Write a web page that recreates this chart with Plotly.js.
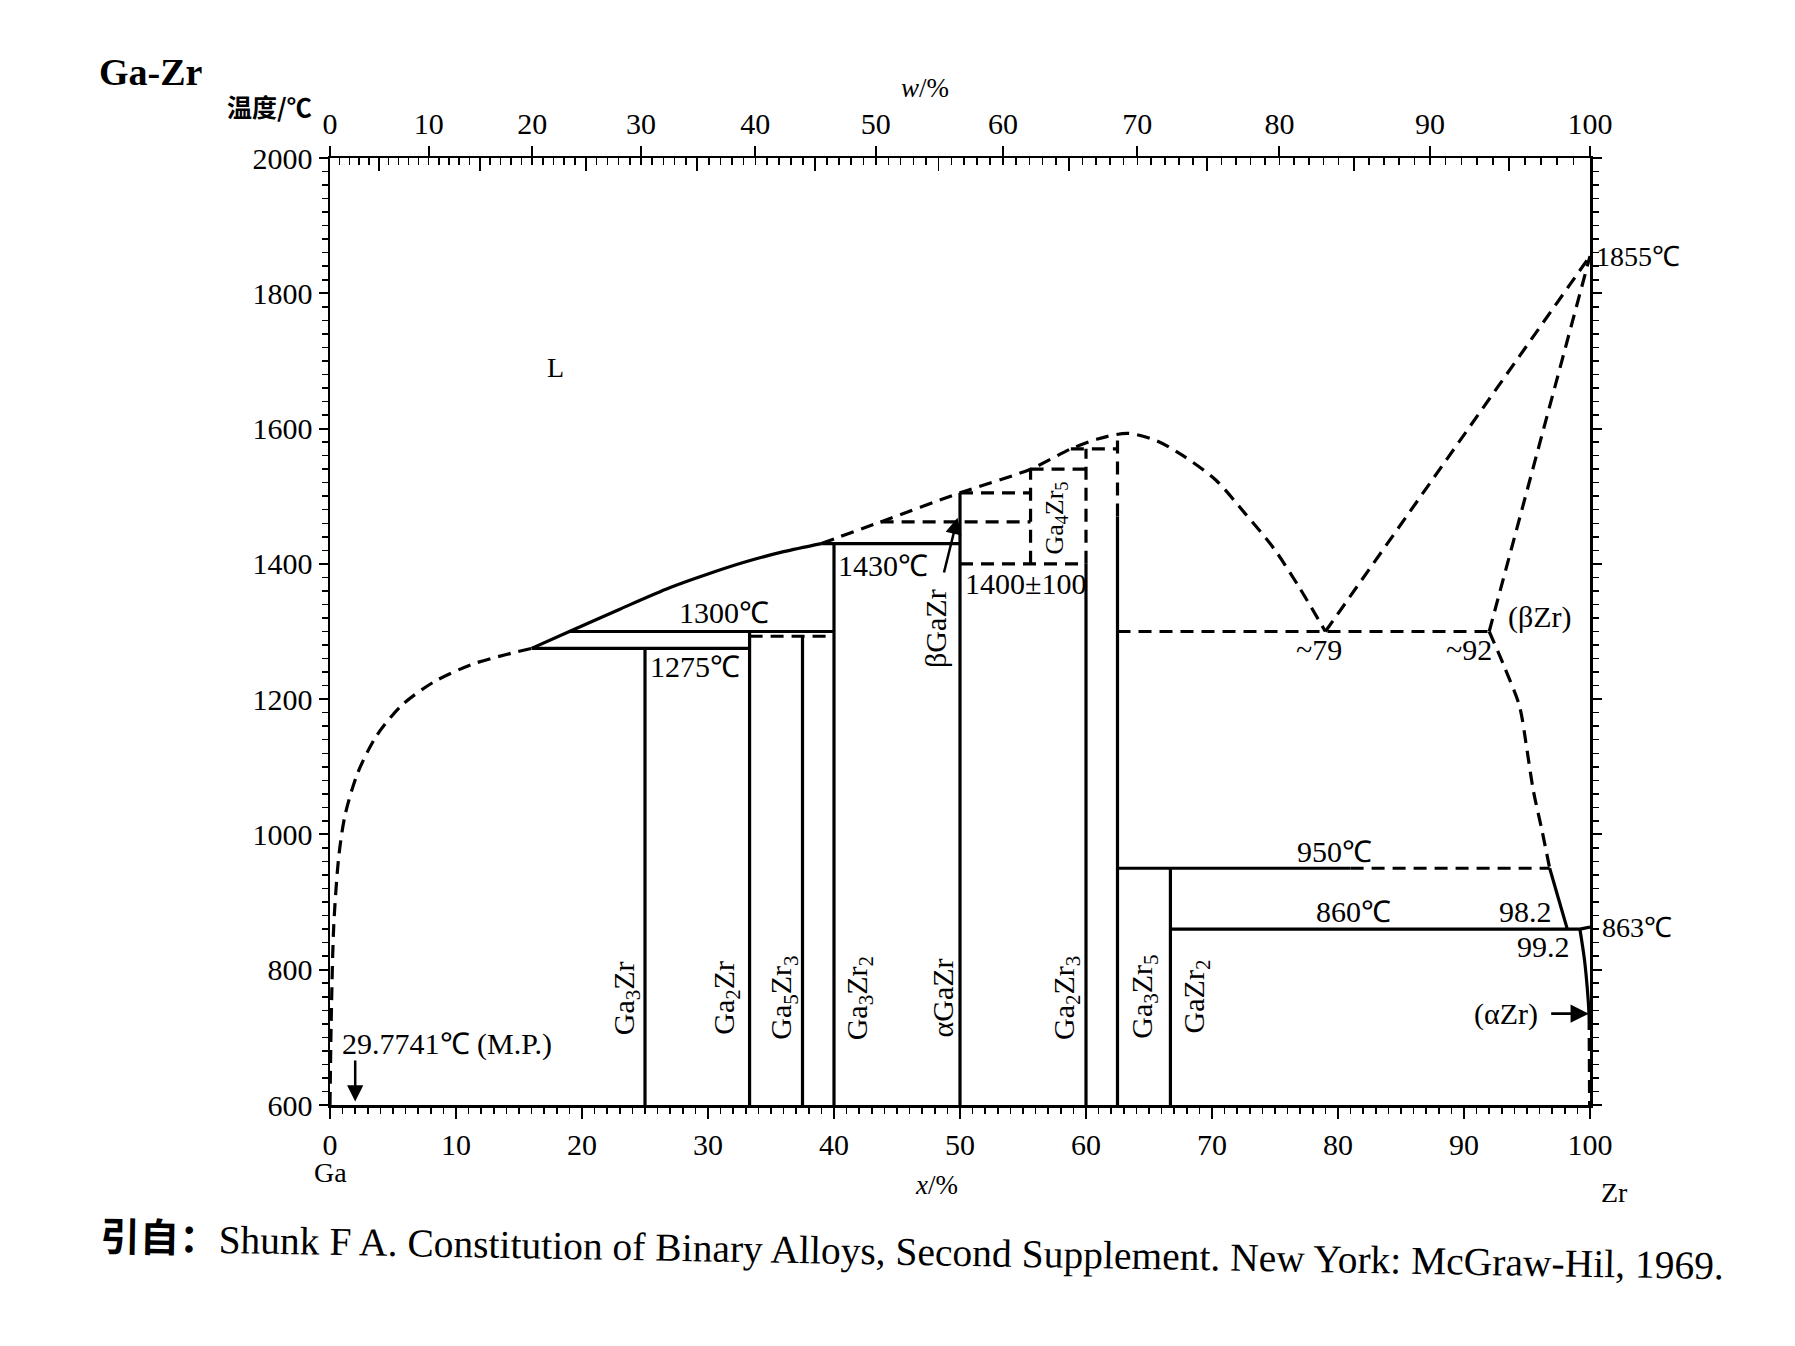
<!DOCTYPE html>
<html>
<head>
<meta charset="utf-8">
<script src="https://cdn.plot.ly/plotly-3.0.1.min.js"></script>
<style>html,body{margin:0;padding:0;background:#fff;}#chart{width:1795px;height:1346px;}</style>
</head>
<body>
<div id="chart"></div>
<script>
// ---------------- DATA (x = at.% Zr, T = °C) ----------------
// Ga-side liquidus (dashed)
const liqGaX = [0, 0.1, 0.3, 0.7, 1.2, 2.2, 3.7, 5.7, 8.2, 11.2, 14.0, 16];
const liqGaT = [600, 729, 866, 968, 1029, 1091, 1146, 1191, 1225, 1251, 1266, 1275];
// liquidus, solid part
const liqSolidX = [16, 19, 23, 27, 30, 33, 36, 39];
const liqSolidT = [1275, 1300, 1333, 1365, 1385, 1403, 1418, 1430];
// liquidus, dashed middle part up to the eutectic (~79)
const liqMidX = [39, 43.7, 50, 55.6, 58.8, 61, 63.3, 65.6, 67.7, 70.3, 72.6, 74.9, 76.9, 79];
const liqMidT = [1430, 1462, 1505, 1540, 1570, 1585, 1593, 1582, 1560, 1524, 1475, 1423, 1366, 1300];
// Zr-side liquidus and solidus (dashed)
const liqZrX = [79, 100];
const liqZrT = [1300, 1855];
const solZrX = [92, 100];
const solZrT = [1300, 1855];
// (βZr) transus: dashed then solid
const transDashX = [92, 93.2, 94.4, 95.0, 95.5, 96.2, 96.8];
const transDashT = [1300, 1248, 1190, 1125, 1065, 1005, 950];
const transSolidX = [96.8, 97.5, 98.2];
const transSolidT = [950, 905, 860];
// (αZr) solvus: solid then dashed
const alphaSolidX = [99.2, 99.56, 99.85, 99.93];
const alphaSolidT = [860, 815, 757, 730];
const alphaDashX = [99.93, 99.97];
const alphaDashT = [730, 600];
const alphaTopX = [99.2, 100];
const alphaTopT = [860, 863];

// compounds: composition, top of solid line
const compX   = [25, 33.3, 37.5, 40, 50, 60, 62.5, 66.7];
const compTop = [1275, 1300, 1293, 1430, 1505, 1400, 1470, 950];
const compNames = ['Ga<sub>3</sub>Zr','Ga<sub>2</sub>Zr','Ga<sub>5</sub>Zr<sub>3</sub>','Ga<sub>3</sub>Zr<sub>2</sub>',
                   'αGaZr','Ga<sub>2</sub>Zr<sub>3</sub>','Ga<sub>3</sub>Zr<sub>5</sub>','GaZr<sub>2</sub>'];
const compLabelX = [23.5, 31.4, 36.0, 42.0, 48.6, 58.4, 64.6, 68.7];
const compLabelT = [758, 758, 758, 758, 758, 758, 760, 760];

// dashed vertical segments: x, T from, T to
const dashVX  = [55.6, 60, 62.5];
const dashVT0 = [1400, 1400, 1470];
const dashVT1 = [1540, 1570, 1593];

// horizontal lines: x from, x to, T
const solidHX0 = [16, 19, 39, 62.5, 66.7];
const solidHX1 = [33.3, 40, 50, 81, 99.2];
const solidHT  = [1275, 1300, 1430, 950, 860];
const dashHX0 = [33.3, 43.7, 50, 55.6, 58.8, 50, 62.5, 81];
const dashHX1 = [40, 55.6, 55.6, 60, 62.5, 60, 92, 96.8];
const dashHT  = [1293, 1462, 1505, 1540, 1570, 1400, 1300, 950];

// axis ticks
const xTicks = [0,10,20,30,40,50,60,70,80,90,100];
const yTicks = [600,800,1000,1200,1400,1600,1800,2000];
const wMajor = [0,10,20,30,40,50,60,70,80,90,100];

// atomic masses for w% -> x% top scale
const M_Ga = 69.723, M_Zr = 91.224;
function wToX(w){ const a = w/M_Zr, b = (100-w)/M_Ga; return 100*a/(a+b); }
const wMinorPos = []; for (let w=0; w<=100; w++) wMinorPos.push(wToX(w));
const wMidPos = []; for (let w=5; w<100; w+=10) wMidPos.push(wToX(w));
const wMajorPos = wMajor.map(wToX);

// ---------------- STYLE ----------------
const SERIF = 'Liberation Serif, Times New Roman, serif';
const LW = 3.2;
const DASH = '13px,8px';
const traces = [];
function add(x, y, dashed){
  traces.push({x:x, y:y, mode:'lines', type:'scatter', hoverinfo:'skip', showlegend:false,
    line:{color:'#000', width:LW, dash:dashed?DASH:'solid', shape:'spline', smoothing:0.8}});
}
function addSegs(x0s, x1s, ys, dashed){
  const X=[], Y=[];
  for (let i=0;i<x0s.length;i++){ X.push(x0s[i], x1s[i], null); Y.push(ys[i], ys[i], null); }
  traces.push({x:X, y:Y, mode:'lines', type:'scatter', hoverinfo:'skip', showlegend:false, connectgaps:false,
    line:{color:'#000', width:LW, dash:dashed?DASH:'solid'}});
}
function addVSegs(xs, t0s, t1s, dashed){
  const X=[], Y=[];
  for (let i=0;i<xs.length;i++){ X.push(xs[i], xs[i], null); Y.push(t0s[i], t1s[i], null); }
  traces.push({x:X, y:Y, mode:'lines', type:'scatter', hoverinfo:'skip', showlegend:false, connectgaps:false,
    line:{color:'#000', width:LW, dash:dashed?DASH:'solid'}});
}

add(liqGaX, liqGaT, true);
add(liqSolidX, liqSolidT, false);
add(liqMidX, liqMidT, true);
add(liqZrX, liqZrT, true);
add(solZrX, solZrT, true);
add(transDashX, transDashT, true);
add(transSolidX, transSolidT, false);
add(alphaSolidX, alphaSolidT, false);
add(alphaDashX, alphaDashT, true);
add(alphaTopX, alphaTopT, false);
addVSegs(compX, compX.map(()=>600), compTop, false);
addVSegs(dashVX, dashVT0, dashVT1, true);
addSegs(solidHX0, solidHX1, solidHT, false);
addSegs(dashHX0, dashHX1, dashHT, true);

// ---------------- LAYOUT ----------------
const PL=330, PR=1590, PT=158, PB=1105;
function pxX(p){ return (p-PL)/(PR-PL); }
function pxY(p){ return (PB-p)/(PB-PT); }

const ann = [];
function txt(x, y, text, size, opts){
  ann.push(Object.assign({x:x, y:y, xref:'x', yref:'y', text:text, showarrow:false,
    font:{family:SERIF, size:size||30, color:'#000'}, xanchor:'center', yanchor:'middle'}, opts||{}));
}
function ptxt(xp, yp, text, size, opts){
  ann.push(Object.assign({x:pxX(xp), y:pxY(yp), xref:'paper', yref:'paper', text:text, showarrow:false,
    font:{family:SERIF, size:size||30, color:'#000'}, xanchor:'center', yanchor:'middle'}, opts||{}));
}

for (let i=0;i<compNames.length;i++) txt(compLabelX[i], compLabelT[i], compNames[i], 30, {textangle:-90});
txt(17.9, 1690, 'L', 28);
txt(31.3, 1328, '1300℃', 30);
txt(29.0, 1249, '1275℃', 30);
txt(43.9, 1398, '1430℃', 30);
txt(55.2, 1371, '1400±100', 30);
txt(48.0, 1305, 'βGaZr', 30, {textangle:-90});
txt(57.6, 1468, 'Ga<sub>4</sub>Zr<sub>5</sub>', 26, {textangle:-90});
txt(78.5, 1274, '~79', 30);
txt(90.4, 1274, '~92', 30);
txt(96.0, 1322, '(βZr)', 30);
txt(79.7, 975, '950℃', 30);
txt(81.2, 886, '860℃', 30);
txt(94.9, 886, '98.2', 30);
txt(96.3, 834, '99.2', 30);
txt(100, 863, '863℃', 28, {xanchor:'left', xshift:10});
txt(100, 1855, '1855℃', 28, {xanchor:'left', xshift:4});
txt(93.3, 735, '(αZr)', 30);
txt(0.8, 690, '29.7741℃ (M.P.)', 30, {xanchor:'left'});
// arrows
ann.push({x:2.0, y:605, ax:2.0, ay:668, xref:'x', yref:'y', axref:'x', ayref:'y', text:'', showarrow:true,
  arrowhead:2, arrowsize:1.3, arrowwidth:2.5, arrowcolor:'#000'});
ann.push({x:49.8, y:1468, ax:48.7, ay:1385, xref:'x', yref:'y', axref:'x', ayref:'y', text:'', showarrow:true,
  arrowhead:2, arrowsize:1.3, arrowwidth:2.5, arrowcolor:'#000'});
ann.push({x:99.9, y:735, ax:96.8, ay:735, xref:'x', yref:'y', axref:'x', ayref:'y', text:'', showarrow:true,
  arrowhead:2, arrowsize:1.3, arrowwidth:2.8, arrowcolor:'#000'});

// outer texts (pixel positioned)
ptxt(97, 72, '<b>Ga-Zr</b>', 38, {xanchor:'left'});
ptxt(314, 106, '<b>温度/℃</b>', 25, {xanchor:'right', font:{family:'Noto Sans CJK SC, '+SERIF, size:25, color:'#000'}});
ptxt(925, 88, '<i>w</i>/%', 27);
ptxt(936, 1185, '<i>x</i>/%', 27);
ptxt(330, 1172, 'Ga', 28);
ptxt(1614, 1192, 'Zr', 28);
ptxt(912, 1252, '<b>引自：</b>Shunk F A. Constitution of Binary Alloys, Second Supplement. New York: McGraw-Hil, 1969.', 39.5,
  {textangle:1, font:{family:SERIF+', Noto Sans CJK SC', size:39.5, color:'#000'}});

const tickFont = {family:SERIF, size:30, color:'#000'};
const layout = {
  width:1795, height:1346,
  paper_bgcolor:'#fff', plot_bgcolor:'#fff',
  margin:{l:PL, r:1795-PR, t:PT, b:1346-PB, pad:0},
  showlegend:false,
  xaxis:{range:[0,100], tickmode:'array', tickvals:xTicks, ticktext:xTicks.map(String),
    ticks:'outside', ticklen:11, tickwidth:2, tickcolor:'#000',
    minor:{dtick:1, ticklen:6, tickwidth:1.5, ticks:'outside', tickcolor:'#000', showgrid:false},
    showline:true, linewidth:2.5, linecolor:'#000', mirror:false, showgrid:false, zeroline:false,
    tickfont:tickFont, fixedrange:true},
  xaxis2:{range:[0,100], overlaying:'x', side:'top', anchor:'y', tickmode:'array', tickvals:wMinorPos,
    showticklabels:false, ticks:'inside', ticklen:7, tickwidth:1.5, tickcolor:'#000',
    showline:true, linewidth:2.5, linecolor:'#000', showgrid:false, zeroline:false},
  xaxis3:{range:[0,100], overlaying:'x', side:'top', anchor:'y', tickmode:'array', tickvals:wMajorPos,
    ticktext:wMajor.map(String), ticks:'outside', ticklen:11, tickwidth:2, tickcolor:'#000',
    showline:false, showgrid:false, zeroline:false, tickfont:tickFont},
  xaxis4:{range:[0,100], overlaying:'x', side:'top', anchor:'y', tickmode:'array', tickvals:wMidPos,
    showticklabels:false, ticks:'inside', ticklen:13, tickwidth:1.8, tickcolor:'#000',
    showline:false, showgrid:false, zeroline:false},
  yaxis:{range:[600,2000], tickmode:'array', tickvals:yTicks, ticktext:yTicks.map(String),
    ticks:'outside', ticklen:9, tickwidth:2, tickcolor:'#000',
    minor:{dtick:20, ticklen:6, tickwidth:1.5, ticks:'outside', tickcolor:'#000', showgrid:false},
    showline:true, linewidth:2.5, linecolor:'#000', mirror:'ticks', showgrid:false, zeroline:false,
    tickfont:tickFont, fixedrange:true},
  annotations:ann
};
// invisible points that switch on the top axes
traces.push({x:[0], y:[600], xaxis:'x2', mode:'markers', marker:{opacity:0}, hoverinfo:'skip', showlegend:false});
traces.push({x:[0], y:[600], xaxis:'x3', mode:'markers', marker:{opacity:0}, hoverinfo:'skip', showlegend:false});
traces.push({x:[0], y:[600], xaxis:'x4', mode:'markers', marker:{opacity:0}, hoverinfo:'skip', showlegend:false});

Plotly.newPlot('chart', traces, layout, {staticPlot:true, displayModeBar:false});
</script>
</body>
</html>
